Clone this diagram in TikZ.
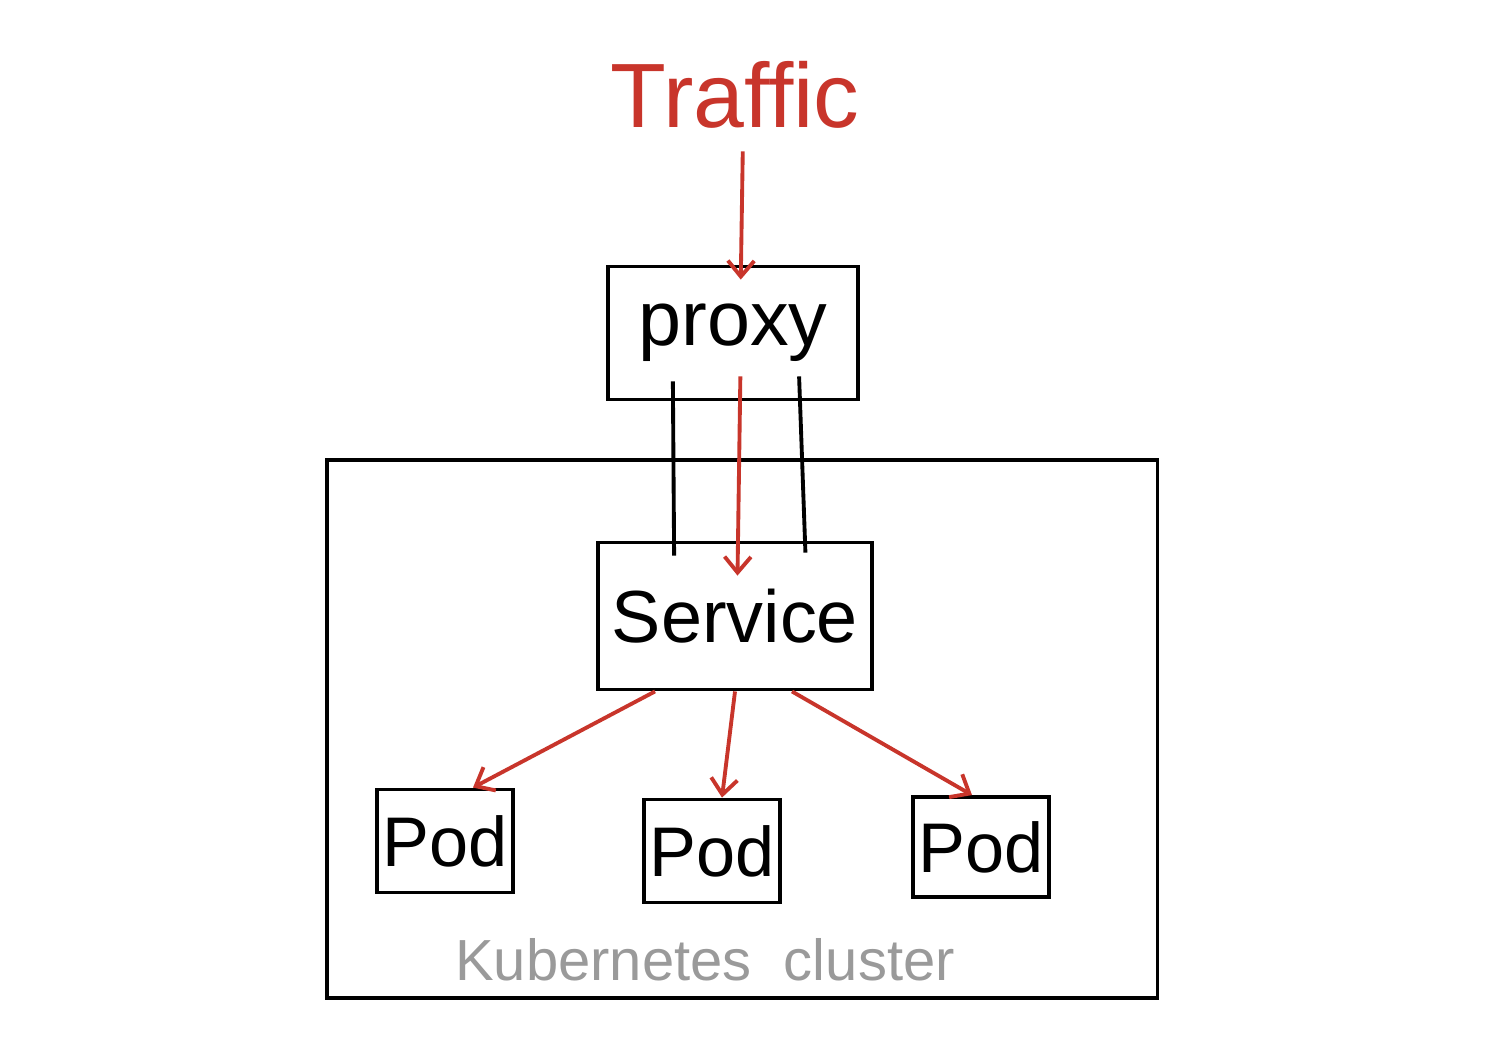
\documentclass[tikz,border=0pt]{standalone}
\usepackage{fontspec}
\setmainfont{Liberation Sans}
\usepackage{tikz}
\usepackage{xcolor}
\usetikzlibrary{arrows.meta}
\definecolor{flowred}{HTML}{C8352B}
\definecolor{clustergray}{HTML}{9A9A9A}

\begin{document}
\begin{tikzpicture}[x=0.02cm,y=-0.02cm,line width=2.2pt,>={Straight Barb[length=9pt,width=15pt]}]
\useasboundingbox (0,0) rectangle (1500,1062);
\node[draw,minimum width=16.62cm,minimum height=10.76cm] (cluster) at (742,729) {};
\node[text=clustergray,font=\fontsize{33}{40}\selectfont] (label) at (705,960) {Kubernetes\ \ cluster};
\node[text=flowred,font=\fontsize{52}{60}\selectfont] (traffic) at (735,95) {Traffic};
\node[draw,minimum width=5cm,minimum height=2.66cm,font=\fontsize{44}{50}\selectfont] (proxy) at (733,333) {proxy};
\node[draw,minimum width=5.48cm,minimum height=2.94cm,font=\fontsize{42}{50}\selectfont] (service) at (735,616) {Service};
\node[draw,minimum width=2.7cm,minimum height=2.06cm,font=\fontsize{40}{48}\selectfont] (pod1) at (445,841) {Pod};
\node[draw,minimum width=2.58cm,minimum height=2.06cm,font=\fontsize{40}{48}\selectfont] (pod2) at (712,851) {Pod};
\node[draw,minimum width=2.58cm,minimum height=2cm,font=\fontsize{40}{48}\selectfont] (pod3) at (981,847) {Pod};
% links between proxy and service
\draw[shorten <=-0.4cm,shorten >=-0.3cm] ([xshift=-1.2cm]proxy.south) -- ([xshift=-1.22cm]service.north);
\draw[shorten <=-0.5cm,shorten >=-0.24cm] ([xshift=1.34cm]proxy.south) -- ([xshift=1.4cm]service.north);
% traffic path
\draw[->,flowred,shorten <=0.3cm,shorten >=-0.3cm] ([xshift=0.16cm]traffic.south) -- ([xshift=0.16cm]proxy.north);
\draw[->,flowred,shorten <=-0.5cm,shorten >=-0.7cm] ([xshift=0.14cm]proxy.south) -- ([xshift=0.06cm]service.north);
\draw[->,flowred] ([xshift=-1.6cm]service.south) -- ([xshift=0.56cm]pod1.north);
\draw[->,flowred] (service.south) -- ([xshift=0.2cm]pod2.north);
\draw[->,flowred] ([xshift=1.14cm]service.south) -- ([xshift=-0.18cm]pod3.north);
\end{tikzpicture}
\end{document}
